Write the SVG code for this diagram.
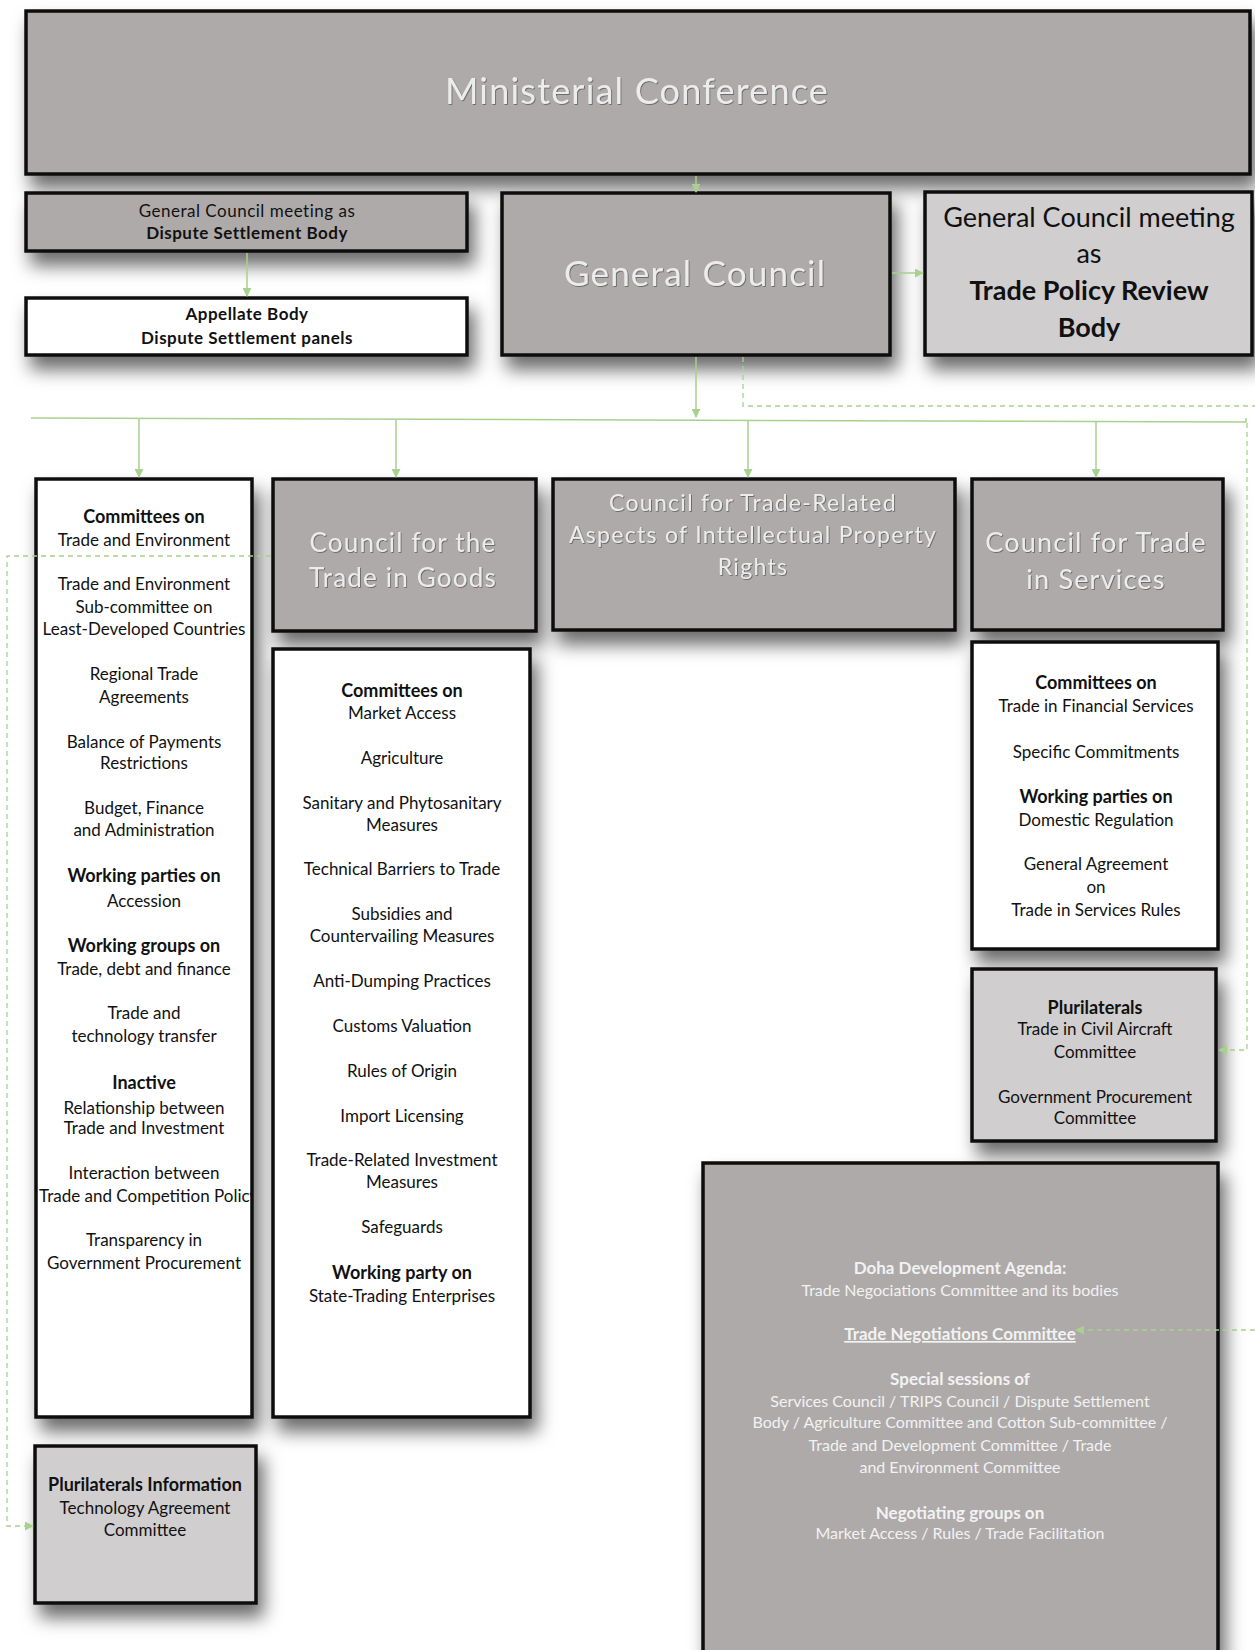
<svg xmlns="http://www.w3.org/2000/svg" width="1255" height="1650" viewBox="0 0 1255 1650">
<style>
.box{stroke:#0d0d0d;stroke-width:3.5}
.dark{fill:#aeaaaa}
.light{fill:#d0cece}
.white{fill:#ffffff}
text{font-family:Lato,"Liberation Sans",sans-serif;text-anchor:middle}
.t{font-size:17px;fill:#111}
.b{font-weight:bold;font-size:18px}
.tp{font-size:27px;fill:#111}
.hd{font-size:17px;letter-spacing:0.5px;fill:#111}
.title{fill:#ececec;filter:url(#emboss)}
.dt{font-size:16px;fill:#f2f2f2}
.db{font-size:17px;font-weight:bold;fill:#f2f2f2}
.con{stroke:#a9d18e;stroke-width:1.5;fill:none}
.dash{stroke:#a9d18e;stroke-width:1.3;fill:none;stroke-dasharray:5 4}
</style>
<defs>
<filter id="shadow" filterUnits="userSpaceOnUse" x="-50" y="-50" width="1400" height="1800">
<feDropShadow dx="6" dy="13" stdDeviation="9" flood-color="#000" flood-opacity="0.58"/>
</filter>
<filter id="emboss" x="-5%" y="-20%" width="110%" height="150%">
<feDropShadow dx="0.8" dy="0.8" stdDeviation="0.4" flood-color="#555" flood-opacity="0.9"/>
</filter>
<marker id="arr" viewBox="0 0 10 10" refX="9" refY="5" markerWidth="9" markerHeight="9" markerUnits="userSpaceOnUse" orient="auto">
<path d="M0,0 L10,5 L0,10 z" fill="#a9d18e"/>
</marker>
<clipPath id="clipL"><rect x="36" y="479" width="215" height="938"/></clipPath>
</defs>
<rect x="0" y="0" width="1255" height="1650" fill="#ffffff"/>

<g id="ministerial">
<rect class="box dark" x="26" y="11" width="1224" height="163" filter="url(#shadow)"/>
<text class="title" x="637" y="104" font-size="36" letter-spacing="1.2">Ministerial Conference</text>
</g>

<g id="dsb">
<rect class="box dark" x="26" y="193" width="441" height="58" filter="url(#shadow)"/>
<text class="hd" x="247" y="217">General Council meeting as</text>
<text class="hd" x="247" y="239" font-weight="bold">Dispute Settlement Body</text>
</g>

<g id="appellate">
<rect class="box white" x="26" y="298" width="441" height="57" filter="url(#shadow)"/>
<text class="hd" x="247" y="320" font-weight="bold">Appellate Body</text>
<text class="hd" x="247" y="344" font-weight="bold">Dispute Settlement panels</text>
</g>

<g id="general-council">
<rect class="box dark" x="502" y="193" width="388" height="162" filter="url(#shadow)"/>
<text class="title" x="695" y="286" font-size="35" letter-spacing="1.2">General Council</text>
</g>

<g id="tprb">
<rect class="box light" x="925" y="192" width="327" height="163" filter="url(#shadow)"/>
<text class="tp" x="1089" y="227">General Council meeting</text>
<text class="tp" x="1089" y="263">as</text>
<text class="tp" x="1089" y="300" font-weight="bold">Trade Policy Review</text>
<text class="tp" x="1089" y="337" font-weight="bold">Body</text>
</g>

<g id="committees-left">
<rect class="box white" x="36" y="479" width="216" height="938" filter="url(#shadow)"/>
<text class="t b" x="144" y="523">Committees on</text>
<text class="t" x="144" y="546">Trade and Environment</text>
<text class="t" x="144" y="590">Trade and Environment</text>
<text class="t" x="144" y="613">Sub-committee on</text>
<text class="t" x="144" y="635">Least-Developed Countries</text>
<text class="t" x="144" y="680">Regional Trade</text>
<text class="t" x="144" y="703">Agreements</text>
<text class="t" x="144" y="748">Balance of Payments</text>
<text class="t" x="144" y="769">Restrictions</text>
<text class="t" x="144" y="814">Budget, Finance</text>
<text class="t" x="144" y="836">and Administration</text>
<text class="t b" x="144" y="882">Working parties on</text>
<text class="t" x="144" y="907">Accession</text>
<text class="t b" x="144" y="952">Working groups on</text>
<text class="t" x="144" y="975">Trade, debt and finance</text>
<text class="t" x="144" y="1019">Trade and</text>
<text class="t" x="144" y="1042">technology transfer</text>
<text class="t b" x="144" y="1089">Inactive</text>
<text class="t" x="144" y="1114">Relationship between</text>
<text class="t" x="144" y="1134">Trade and Investment</text>
<text class="t" x="144" y="1179">Interaction between</text>
<text class="t" x="39" y="1202" style="text-anchor:start" clip-path="url(#clipL)">Trade and Competition Policy</text>
<text class="t" x="144" y="1246">Transparency in</text>
<text class="t" x="144" y="1269">Government Procurement</text>
</g>

<g id="goods-council">
<rect class="box dark" x="273" y="479" width="263" height="152" filter="url(#shadow)"/>
<text class="title" x="403" y="552" font-size="26" letter-spacing="1.2">Council for the</text>
<text class="title" x="403" y="587" font-size="26" letter-spacing="1.2">Trade in Goods</text>
</g>

<g id="goods-list">
<rect class="box white" x="273" y="649" width="257" height="768" filter="url(#shadow)"/>
<text class="t b" x="402" y="697">Committees on</text>
<text class="t" x="402" y="719">Market Access</text>
<text class="t" x="402" y="764">Agriculture</text>
<text class="t" x="402" y="809">Sanitary and Phytosanitary</text>
<text class="t" x="402" y="831">Measures</text>
<text class="t" x="402" y="875">Technical Barriers to Trade</text>
<text class="t" x="402" y="920">Subsidies and</text>
<text class="t" x="402" y="942">Countervailing Measures</text>
<text class="t" x="402" y="987">Anti-Dumping Practices</text>
<text class="t" x="402" y="1032">Customs Valuation</text>
<text class="t" x="402" y="1077">Rules of Origin</text>
<text class="t" x="402" y="1122">Import Licensing</text>
<text class="t" x="402" y="1166">Trade-Related Investment</text>
<text class="t" x="402" y="1188">Measures</text>
<text class="t" x="402" y="1233">Safeguards</text>
<text class="t b" x="402" y="1279">Working party on</text>
<text class="t" x="402" y="1302">State-Trading Enterprises</text>
</g>

<g id="trips-council">
<rect class="box dark" x="553" y="479" width="402" height="151" filter="url(#shadow)"/>
<text class="title" x="753" y="511" font-size="23" letter-spacing="1.3">Council for Trade-Related</text>
<text class="title" x="753" y="543" font-size="23" letter-spacing="1.3">Aspects of Inttellectual Property</text>
<text class="title" x="753" y="575" font-size="23" letter-spacing="1.3">Rights</text>
</g>

<g id="services-council">
<rect class="box dark" x="972" y="479" width="251" height="151" filter="url(#shadow)"/>
<text class="title" x="1096" y="552" font-size="27" letter-spacing="1.2">Council for Trade</text>
<text class="title" x="1096" y="589" font-size="27" letter-spacing="1.2">in Services</text>
</g>

<g id="services-list">
<rect class="box white" x="972" y="642" width="246" height="307" filter="url(#shadow)"/>
<text class="t b" x="1096" y="689">Committees on</text>
<text class="t" x="1096" y="712">Trade in Financial Services</text>
<text class="t" x="1096" y="758">Specific Commitments</text>
<text class="t b" x="1096" y="803">Working parties on</text>
<text class="t" x="1096" y="826">Domestic Regulation</text>
<text class="t" x="1096" y="870">General Agreement</text>
<text class="t" x="1096" y="893">on</text>
<text class="t" x="1096" y="916">Trade in Services Rules</text>
</g>

<g id="plurilaterals-right">
<rect class="box light" x="972" y="969" width="244" height="172" filter="url(#shadow)"/>
<text class="t b" x="1095" y="1014">Plurilaterals</text>
<text class="t" x="1095" y="1035">Trade in Civil Aircraft</text>
<text class="t" x="1095" y="1058">Committee</text>
<text class="t" x="1095" y="1103">Government Procurement</text>
<text class="t" x="1095" y="1124">Committee</text>
</g>

<g id="doha">
<rect class="box dark" x="703" y="1163" width="515" height="520" filter="url(#shadow)"/>
<text class="db" x="960" y="1274">Doha Development Agenda:</text>
<text class="dt" x="960" y="1296">Trade Negociations Committee and its bodies</text>
<text class="db" x="960" y="1340" text-decoration="underline">Trade Negotiations Committee</text>
<text class="db" x="960" y="1385">Special sessions of</text>
<text class="dt" x="960" y="1407">Services Council / TRIPS Council / Dispute Settlement</text>
<text class="dt" x="960" y="1428">Body / Agriculture Committee and Cotton Sub-committee /</text>
<text class="dt" x="960" y="1451">Trade and Development Committee / Trade</text>
<text class="dt" x="960" y="1473">and Environment Committee</text>
<text class="db" x="960" y="1519">Negotiating groups on</text>
<text class="dt" x="960" y="1539">Market Access / Rules / Trade Facilitation</text>
</g>

<g id="plurilaterals-left">
<rect class="box light" x="35" y="1446" width="221" height="157" filter="url(#shadow)"/>
<text class="t b" x="145" y="1491">Plurilaterals Information</text>
<text class="t" x="145" y="1514">Technology Agreement</text>
<text class="t" x="145" y="1536">Committee</text>
</g>

<g id="connectors">
<line class="con" x1="696" y1="176" x2="696" y2="192" marker-end="url(#arr)"/>
<line class="con" x1="247" y1="253" x2="247" y2="296" marker-end="url(#arr)"/>
<line class="con" x1="892" y1="273" x2="923" y2="273" marker-end="url(#arr)"/>
<line class="con" x1="696" y1="357" x2="696" y2="417" marker-end="url(#arr)"/>
<polyline class="con" points="31,418 1246,422 1246,418"/>
<line class="con" x1="139" y1="419" x2="139" y2="477" marker-end="url(#arr)"/>
<line class="con" x1="396" y1="419" x2="396" y2="477" marker-end="url(#arr)"/>
<line class="con" x1="748" y1="420" x2="748" y2="477" marker-end="url(#arr)"/>
<line class="con" x1="1096" y1="421" x2="1096" y2="477" marker-end="url(#arr)"/>
<polyline class="dash" points="743,357 743,406 1255,406"/>
<polyline class="dash" points="1247,423 1247,1050 1219,1050" marker-end="url(#arr)"/>
<line class="dash" x1="1255" y1="1330" x2="1076" y2="1330" marker-end="url(#arr)"/>
<polyline class="dash" points="271,556 7,556 7,1526 33,1526" marker-end="url(#arr)"/>
</g>
</svg>
